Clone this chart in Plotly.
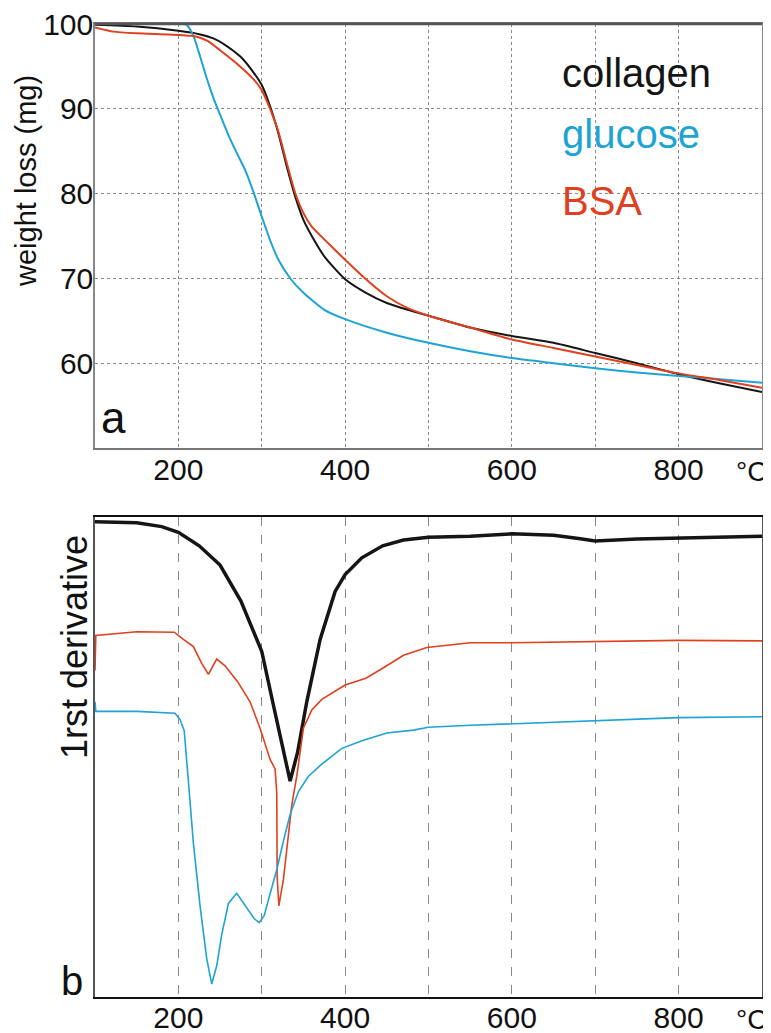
import plotly.graph_objects as go

# ---------- panel a : weight loss (mg) ----------
coll_T = [100, 150, 200, 225, 242, 255, 265, 275, 290, 300, 310, 320, 330, 340, 350, 360, 375,
          400, 425, 450, 475, 500, 550, 600, 650, 700, 750, 800, 850, 900]
coll_W = [99.9, 99.7, 99.2, 98.8, 98.3, 97.6, 96.9, 96.1, 94.3, 92.8, 90.3, 87.1, 83.2, 79.7, 76.9, 75.0, 72.6,
          69.9, 68.3, 67.1, 66.3, 65.6, 64.2, 63.2, 62.4, 61.2, 60.0, 58.7, 57.6, 56.6]

bsa_T = [100, 122, 150, 200, 222, 235, 250, 274, 290, 300, 310, 320, 330, 340, 350, 360, 375,
         400, 425, 450, 475, 500, 550, 600, 650, 700, 750, 800, 850, 900]
bsa_W = [99.6, 99.1, 98.9, 98.7, 98.5, 98.0, 96.9, 95.0, 93.5, 92.2, 90.0, 87.3, 83.6, 80.1, 77.7, 76.1, 74.6,
         72.2, 69.9, 67.9, 66.5, 65.6, 64.2, 62.8, 61.8, 60.8, 59.8, 58.8, 58.0, 57.1]

glu_T = [100, 205, 210, 218, 226, 234, 242, 250, 260, 270, 280, 290, 300, 310, 320, 335, 350, 375,
         400, 450, 500, 550, 600, 650, 700, 750, 800, 850, 900]
glu_W = [100.0, 100.0, 99.9, 98.6, 96.2, 93.6, 91.3, 89.3, 86.9, 84.8, 82.8, 80.2, 77.3, 74.5, 72.2, 69.9, 68.3, 66.3,
         65.2, 63.6, 62.4, 61.4, 60.6, 60.0, 59.4, 58.9, 58.5, 58.1, 57.7]

# ---------- panel b : 1st derivative (arbitrary units, 0-100) ----------
dcoll_T = [100, 150, 180, 200, 225, 250, 275, 300, 315, 325, 334, 343, 354, 370, 388, 400, 420, 445,
           470, 500, 550, 600, 650, 680, 700, 750, 800, 850, 900]
dcoll_D = [99.0, 98.8, 98.0, 96.8, 94.0, 90.0, 82.5, 72.0, 60.0, 52.0, 45.0, 51.0, 61.5, 74.5, 84.5, 88.0, 91.5, 94.0,
           95.2, 95.8, 96.0, 96.5, 96.2, 95.5, 95.0, 95.4, 95.6, 95.8, 96.0]

dbsa_T = [100, 101, 150, 195, 206, 218, 228, 236, 246, 256, 271, 286, 298, 310, 316, 318, 318.5, 320.5, 326,
          331, 336, 342, 350, 360, 372, 400, 425, 445, 470, 498, 550, 600, 700, 800, 900]
dbsa_D = [68.0, 75.3, 76.1, 76.0, 74.5, 73.0, 69.5, 67.2, 70.4, 69.0, 65.7, 61.5, 56.0, 49.5, 47.5, 42.5, 25.0, 19.0, 24.5,
          33.0, 40.0, 46.0, 56.0, 59.8, 62.0, 65.0, 66.4, 68.5, 71.2, 72.8, 73.8, 73.8, 74.1, 74.3, 74.2]

dglu_T = [100, 101, 150, 196, 202, 207, 212, 218, 226, 234, 240, 246, 252, 260, 270, 282, 291, 297, 303,
          310, 318, 326, 334, 344, 356, 372, 396, 422, 450, 482, 500, 550, 600, 700, 800, 900]
dglu_D = [61.5, 59.5, 59.5, 59.1, 57.8, 55.5, 45.0, 32.0, 19.0, 8.0, 2.7, 6.5, 13.0, 19.5, 21.6, 18.6, 16.3, 15.5, 17.0,
          21.5, 26.5, 32.5, 38.0, 42.8, 46.0, 48.5, 51.8, 53.5, 55.0, 55.6, 56.2, 56.6, 56.9, 57.6, 58.2, 58.4]

grid_vals = [200, 300, 400, 500, 600, 700, 800]
grid_text = ["200", "", "400", "", "600", "", "800"]
minor_ticks = [150, 250, 350, 450, 550, 650, 750, 850]
y_ticks = [60, 70, 80, 90, 100]

BLACK = "#151515"
BLUE = "#1ea3d5"
RED = "#e0401f"
FONT = "Liberation Sans, Arial, sans-serif"

W, H = 771, 1033
OFF = 8  # page body margin


def px(x):
    return (x - OFF) / W


def py(y):
    return 1 - (y - OFF) / H


fig = go.Figure()
fig.add_trace(go.Scatter(x=coll_T, y=coll_W, mode="lines", line=dict(color=BLACK, width=2, shape="spline", smoothing=0.6), xaxis="x", yaxis="y"))
fig.add_trace(go.Scatter(x=glu_T, y=glu_W, mode="lines", line=dict(color=BLUE, width=2, shape="spline", smoothing=0.6), xaxis="x", yaxis="y"))
fig.add_trace(go.Scatter(x=bsa_T, y=bsa_W, mode="lines", line=dict(color=RED, width=2, shape="spline", smoothing=0.6), xaxis="x", yaxis="y"))

fig.add_trace(go.Scatter(x=dcoll_T, y=dcoll_D, mode="lines", line=dict(color=BLACK, width=3.5), xaxis="x2", yaxis="y2"))
fig.add_trace(go.Scatter(x=dbsa_T, y=dbsa_D, mode="lines", line=dict(color=RED, width=1.6), xaxis="x2", yaxis="y2"))
fig.add_trace(go.Scatter(x=dglu_T, y=dglu_D, mode="lines", line=dict(color=BLUE, width=1.6), xaxis="x2", yaxis="y2"))

xd = [px(95), px(762)]
yd1 = [py(448), py(24)]
yd2 = [py(997), py(517)]
tickfont = dict(family=FONT, size=30, color="#111")

common = dict(zeroline=False, automargin=False, ticklabeloverflow="allow")

fig.update_layout(
    width=W, height=H, autosize=False,
    margin=dict(l=0, r=0, t=0, b=0, pad=0),
    paper_bgcolor="white", plot_bgcolor="white",
    showlegend=False,
    font=dict(family=FONT),
    xaxis=dict(domain=xd, anchor="y", range=[100, 900], tickmode="array", tickvals=grid_vals, ticktext=grid_text,
               ticks="", tickfont=tickfont, ticklabelstandoff=-6, showgrid=True, gridcolor="#888", griddash="dot",
               gridwidth=1, showline=True, linecolor="#777", linewidth=2, mirror=True, **common),
    yaxis=dict(domain=yd1, anchor="x", range=[50, 100], tickmode="array", tickvals=y_ticks,
               ticks="", tickfont=tickfont, ticklabelstandoff=-6, showgrid=True, gridcolor="#888", griddash="dot",
               gridwidth=1, showline=True, linecolor="#888", linewidth=1.5, mirror=True, **common),
    xaxis2=dict(domain=xd, anchor="y2", range=[100, 900], tickmode="array", tickvals=grid_vals, ticktext=grid_text,
                ticks="", tickfont=tickfont, ticklabelstandoff=-7, showgrid=True, gridcolor="#888", griddash="dash",
                gridwidth=1, showline=True, linecolor="#111", linewidth=2, mirror=True, **common),
    xaxis3=dict(domain=xd, anchor="y2", overlaying="x2", range=[100, 900], tickmode="array", tickvals=minor_ticks,
                ticks="inside", ticklen=8, tickwidth=1.5, tickcolor="#111", showticklabels=False,
                showgrid=False, showline=False, **common),
    yaxis2=dict(domain=yd2, anchor="x2", range=[0, 100], showticklabels=False, ticks="", showgrid=False,
                showline=True, linecolor="#555", linewidth=1.5, mirror=True, **common),
)

# darker top frame line for panel a
fig.add_shape(type="line", xref="x domain", yref="y domain", x0=0, x1=1, y0=1, y1=1,
              line=dict(color="#555", width=2.5))


def txt(s, x, y, size, color="#111", xanchor="left", angle=0):
    fig.add_annotation(text=s, x=px(x), y=py(y), xref="paper", yref="paper", showarrow=False,
                       xanchor=xanchor, yanchor="middle", textangle=angle,
                       font=dict(family=FONT, size=size, color=color))


txt("collagen", 560, 73, 40, BLACK)
txt("glucose", 560, 134, 40, BLUE)
txt("BSA", 560, 201, 40, RED)
txt("a", 99, 417, 44)
txt("b", 59, 981, 40)
txt("°C", 734, 471, 28)
txt("°C", 734, 1019, 28)
txt("weight loss (mg)", 26, 181, 29, xanchor="center", angle=-90)
txt("1rst derivative", 74, 647, 36, xanchor="center", angle=-90)

fig.write_html("out.html")
